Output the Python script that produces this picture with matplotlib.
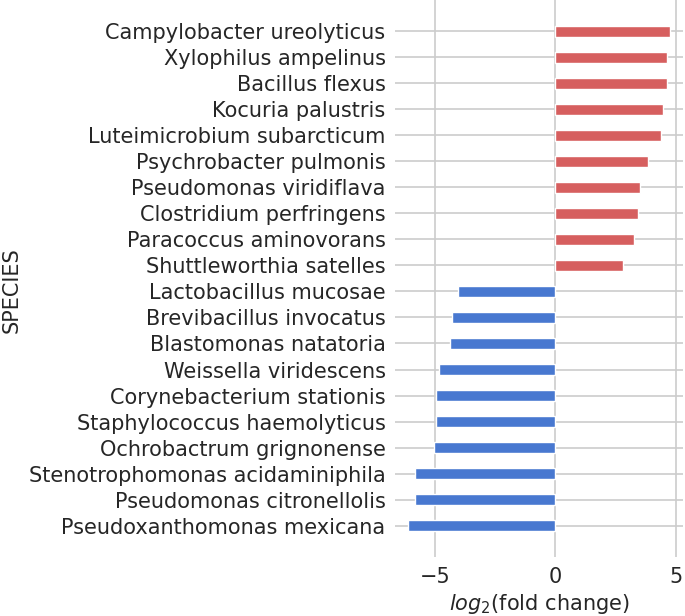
import numpy as np
import matplotlib
matplotlib.use("Agg")
import matplotlib.pyplot as plt
import seaborn as sns

# top to bottom as shown
species = [
    "Campylobacter ureolyticus", "Xylophilus ampelinus", "Bacillus flexus",
    "Kocuria palustris", "Luteimicrobium subarcticum", "Psychrobacter pulmonis",
    "Pseudomonas viridiflava", "Clostridium perfringens", "Paracoccus aminovorans",
    "Shuttleworthia satelles", "Lactobacillus mucosae", "Brevibacillus invocatus",
    "Blastomonas natatoria", "Weissella viridescens", "Corynebacterium stationis",
    "Staphylococcus haemolyticus", "Ochrobactrum grignonense",
    "Stenotrophomonas acidaminiphila", "Pseudomonas citronellolis",
    "Pseudoxanthomonas mexicana",
]
log2fc = [4.75, 4.64, 4.62, 4.45, 4.38, 3.86, 3.51, 3.44, 3.26, 2.82,
          -4.04, -4.27, -4.35, -4.82, -4.97, -4.97, -5.03, -5.84, -5.84, -6.10]

sns.set_style("whitegrid")
plt.rcParams['font.family'] = ['DejaVu Sans']

fig = plt.figure(figsize=(6.85, 6.16), dpi=100)
ax = fig.add_axes([0.577, 0.096, 0.42, 0.904])

vals = log2fc[::-1]
names = species[::-1]
cols = ["#d65f5f" if v > 0 else "#4878d0" for v in vals]
y = np.arange(len(vals))
ax.barh(y, vals, height=0.42, color=cols, zorder=2)
ax.set_yticks(y)
ax.set_yticklabels(names, fontsize=15, color="0.15")
ax.tick_params(axis='x', labelsize=15, colors="0.15")
ax.set_ylim(-1.2, 20.2)
ax.set_xlim(-6.64, 5.29)
ax.set_xticks([-5, 0, 5])
for s in ax.spines.values():
    s.set_visible(False)
ax.grid(True, color="0.8", linewidth=1.2)
ax.set_axisbelow(True)
ax.set_xlabel(r"$log_2$(fold change)", fontsize=15, color="0.15")
fig.text(2 / 685, 0.529, "SPECIES", rotation=90, ha="left", va="center",
         fontsize=15, color="0.15")

fig.savefig("out.png", dpi=100)
